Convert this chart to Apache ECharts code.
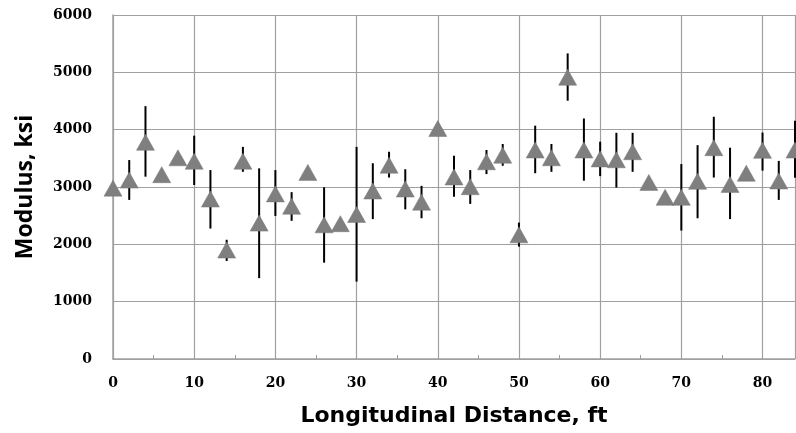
<!DOCTYPE html>
<html><head><meta charset="utf-8">
<script src="https://cdn.jsdelivr.net/npm/echarts@6/dist/echarts.min.js"></script>
<style>html,body{margin:0;padding:0;background:#fff}#c{width:796px;height:433px}</style>
</head><body><div id="c"></div>
<script>
const distance = [0,2,4,6,8,10,12,14,16,18,20,22,24,26,28,30,32,34,36,38,40,42,44,46,48,50,52,54,56,58,60,62,64,66,68,70,72,74,76,78,80,82,84];
const modulus = [2980,3120,3780,3215,3510,3450,2790,1900,3450,2370,2880,2665,3255,2340,2360,2520,2930,3380,2965,2735,4020,3175,3005,3440,3555,2165,3645,3510,4915,3645,3490,3475,3615,3080,2820,2820,3100,3685,3045,3240,3640,3105,3645];
const errHigh = [null,3470,4410,null,null,3895,3295,2080,3700,3325,3295,2910,null,2995,null,3700,3415,3615,3310,3020,null,3545,3295,3645,3750,2380,4070,3750,5330,4195,3790,3945,3945,null,null,3400,3730,4225,3685,null,3950,3455,4155];
const errLow = [null,2775,3180,null,null,3035,2275,1710,3265,1410,2495,2410,null,1680,null,1350,2440,3165,2610,2455,null,2830,2705,3225,3370,1960,3240,3265,4505,3110,3190,2990,3265,null,null,2240,2455,3165,2440,null,3285,2775,3160];
const xTicks = [0,10,20,30,40,50,60,70,80];
const yTicks = [0,1000,2000,3000,4000,5000,6000];

const pts = distance.map((d,i)=>[d, modulus[i]]);
const bars = [];
distance.forEach((d,i)=>{ if(errHigh[i]!=null) bars.push([d, errLow[i], errHigh[i]]); });

const chart = echarts.init(document.getElementById('c'));
const tickFont = {fontFamily:'DejaVu Serif', fontWeight:'bold', fontSize:14, color:'#000'};
chart.setOption({
  animation:false,
  grid:{left:113, right:1, top:15, bottom:74},
  xAxis:{
    type:'value', min:xTicks[0], max:84, interval:10,
    name:'Longitudinal Distance, ft', nameLocation:'middle', nameGap:46,
    nameTextStyle:{fontFamily:'DejaVu Sans', fontWeight:'bold', fontSize:22, color:'#000'},
    axisLine:{show:true, lineStyle:{color:'#a0a0a0', width:1.5}},
    axisTick:{show:true, inside:true, length:4, lineStyle:{color:'#a0a0a0'}},
    minorTick:{show:true, splitNumber:2, length:4, lineStyle:{color:'#a0a0a0'}},
    splitLine:{show:true, lineStyle:{color:'#a0a0a0', width:1.2}},
    axisLabel:Object.assign({margin:17, showMaxLabel:false, formatter:v=> xTicks.includes(v)? String(v):''}, tickFont)
  },
  yAxis:{
    type:'value', min:yTicks[0], max:6000, interval:1000,
    name:'Modulus, ksi', nameLocation:'middle', nameGap:76, nameRotate:90,
    nameTextStyle:{fontFamily:'Open Sans', fontWeight:'bold', fontSize:23, color:'#000'},
    axisLine:{show:true, lineStyle:{color:'#a0a0a0', width:1.5}},
    axisTick:{show:false},
    splitLine:{show:true, lineStyle:{color:'#a0a0a0', width:1.2}},
    axisLabel:Object.assign({margin:21, formatter:v=>String(v)}, tickFont)
  },
  series:[
    {
      type:'custom', z:2, data:bars,
      renderItem:(params, api)=>{
        const a = api.coord([api.value(0), api.value(1)]);
        const b = api.coord([api.value(0), api.value(2)]);
        return {type:'line', shape:{x1:a[0], y1:a[1], x2:b[0], y2:b[1]}, style:{stroke:'#000', lineWidth:2}};
      },
      encode:{x:0, y:[1,2]}
    },
    {
      type:'scatter', z:3, data:pts, symbol:'triangle', symbolSize:[18,16],
      itemStyle:{color:'#7f7f7f', borderColor:'#777', borderWidth:0.5, opacity:1},
      clip:false
    }
  ]
});
</script></body></html>
